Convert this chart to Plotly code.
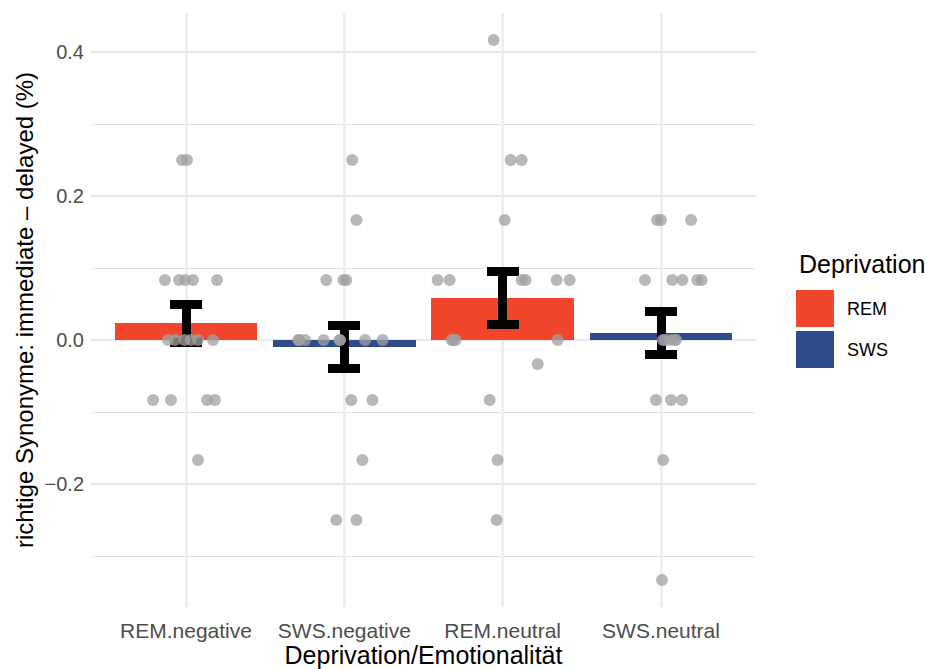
import numpy as np
import plotly.graph_objects as go

# Groups on the x axis and the deprivation condition of each
categories = ["REM.negative", "SWS.negative", "REM.neutral", "SWS.neutral"]
deprivation = ["REM", "SWS", "REM", "SWS"]

# Per-subject differences (immediate - delayed), one list per group
rem_negative = [0.25, 0.25,
                0.0833, 0.0833, 0.0833, 0.0833, 0.0833,
                0, 0, 0, 0, 0, 0,
                -0.0833, -0.0833, -0.0833, -0.0833,
                -0.1667]
sws_negative = [0.25, 0.1667,
                0.0833, 0.0833, 0.0833,
                0, 0, 0, 0, 0, 0, 0, 0,
                -0.0833, -0.0833, -0.1667, -0.25, -0.25]
rem_neutral = [0.4167, 0.25, 0.25, 0.1667,
               0.0833, 0.0833, 0.0833, 0.0833, 0.0833, 0.0833,
               0, 0, 0, 0,
               -0.0333, -0.0833, -0.1667, -0.25]
sws_neutral = [0.1667, 0.1667, 0.1667,
               0.0833, 0.0833, 0.0833, 0.0833, 0.0833,
               0, 0, 0, 0, 0,
               -0.0833, -0.0833, -0.0833, -0.1667, -0.3333]

# Horizontal jitter of each point (category units), same order as above
rem_negative_jit = [-0.025, 0.006,
                    -0.133, -0.044, -0.006, 0.044, 0.196,
                    -0.114, -0.010, 0.076, 0.171, -0.070, 0.030,
                    -0.208, -0.095, 0.133, 0.183,
                    0.076]
sws_negative_jit = [0.05, 0.076,
                    -0.114, -0.006, 0.013,
                    -0.291, -0.248, -0.131, -0.027, 0.131, 0.242, -0.03, -0.284,
                    0.044, 0.177, 0.114, -0.051, 0.076]
rem_neutral_jit = [-0.057, 0.051, 0.120, 0.013,
                   -0.411, -0.335, 0.120, 0.145, 0.341, 0.423,
                   -0.322, -0.297, 0.347, -0.310,
                   0.221, -0.082, -0.032, -0.038]
sws_neutral_jit = [-0.025, 0.0, 0.19,
                   -0.101, 0.071, 0.135, 0.229, 0.257,
                   0.011, 0.084, 0.025, 0.057, 0.095,
                   -0.032, 0.063, 0.133, 0.013, 0.006]

groups = [rem_negative, sws_negative, rem_neutral, sws_neutral]
jitters = [rem_negative_jit, sws_negative_jit, rem_neutral_jit, sws_neutral_jit]

colors = {"REM": "#F2462C", "SWS": "#2E4C8A"}

means = [float(np.mean(g)) for g in groups]
ses = [float(np.std(g, ddof=1) / np.sqrt(len(g))) for g in groups]

pts_x, pts_y = [], []
for i, (g, j) in enumerate(zip(groups, jitters)):
    pts_x += [i + d for d in j]
    pts_y += list(g)

fig = go.Figure()
fig.add_trace(go.Bar(
    x=list(range(len(categories))), y=means, width=0.9,
    marker=dict(color=[colors[d] for d in deprivation], line=dict(width=0)),
    error_y=dict(type="data", array=ses, visible=True, color="black",
                 thickness=9, width=16),
    showlegend=False,
))
fig.add_trace(go.Scatter(
    x=pts_x, y=pts_y, mode="markers",
    marker=dict(size=12, color="rgba(160,160,160,0.75)", line=dict(width=0)),
    showlegend=False,
))

W, H = 927, 669
ML, MR, MT, MB = 91, 171, 13, 62
pw, ph = W - ML - MR, H - MT - MB


def px_x(px):
    return (px - ML) / pw


def px_y(py):
    return (H - MB - py) / ph


font = "Liberation Sans, Arial, Helvetica, sans-serif"

# Legend drawn as swatches + labels
shapes = []
annotations = [dict(text="Deprivation", x=px_x(797), y=px_y(264), xref="paper", yref="paper",
                    xanchor="left", yanchor="middle", showarrow=False,
                    font=dict(size=25, color="black", family=font))]
for k, (lab, top) in enumerate([("REM", 290), ("SWS", 331)]):
    shapes.append(dict(type="rect", xref="paper", yref="paper",
                       x0=px_x(796), x1=px_x(834), y0=px_y(top), y1=px_y(top + 37),
                       fillcolor=colors[lab], line=dict(width=0), layer="above"))
    annotations.append(dict(text=lab, x=px_x(845), y=px_y(top + 18.5), xref="paper", yref="paper",
                            xanchor="left", yanchor="middle", showarrow=False,
                            font=dict(size=18, color="black", family=font)))

fig.update_layout(
    width=W, height=H, autosize=False,
    margin=dict(l=ML, r=MR, t=MT, b=MB, pad=0, autoexpand=False),
    paper_bgcolor="white", plot_bgcolor="white",
    font=dict(family=font),
    shapes=shapes, annotations=annotations,
    bargap=0,
    xaxis=dict(
        range=[-0.6, 3.6], tickmode="array", tickvals=list(range(len(categories))),
        ticktext=categories, showgrid=True, gridcolor="#EFEFEF", gridwidth=3,
        zeroline=False, showline=False, ticks="", automargin=False,
        tickfont=dict(size=21, color="#4D4D4D"), ticklabelstandoff=9,
        title=dict(text="Deprivation/Emotionalität", font=dict(size=25, color="black"), standoff=1),
    ),
    yaxis=dict(
        range=[-0.3708, 0.4542], tick0=0, dtick=0.2, tickformat=".1f",
        showgrid=True, gridcolor="#E8E8E8", gridwidth=2,
        minor=dict(tick0=0, dtick=0.1, showgrid=True, gridcolor="#E2E2E2", gridwidth=1.2),
        zeroline=False, showline=False, ticks="", automargin=False,
        tickfont=dict(size=20, color="#4D4D4D"), ticklabelstandoff=6,
        title=dict(text="richtige Synonyme: immediate – delayed (%)", font=dict(size=24, color="black"), standoff=4),
    ),
)

fig.write_html("out.html")
